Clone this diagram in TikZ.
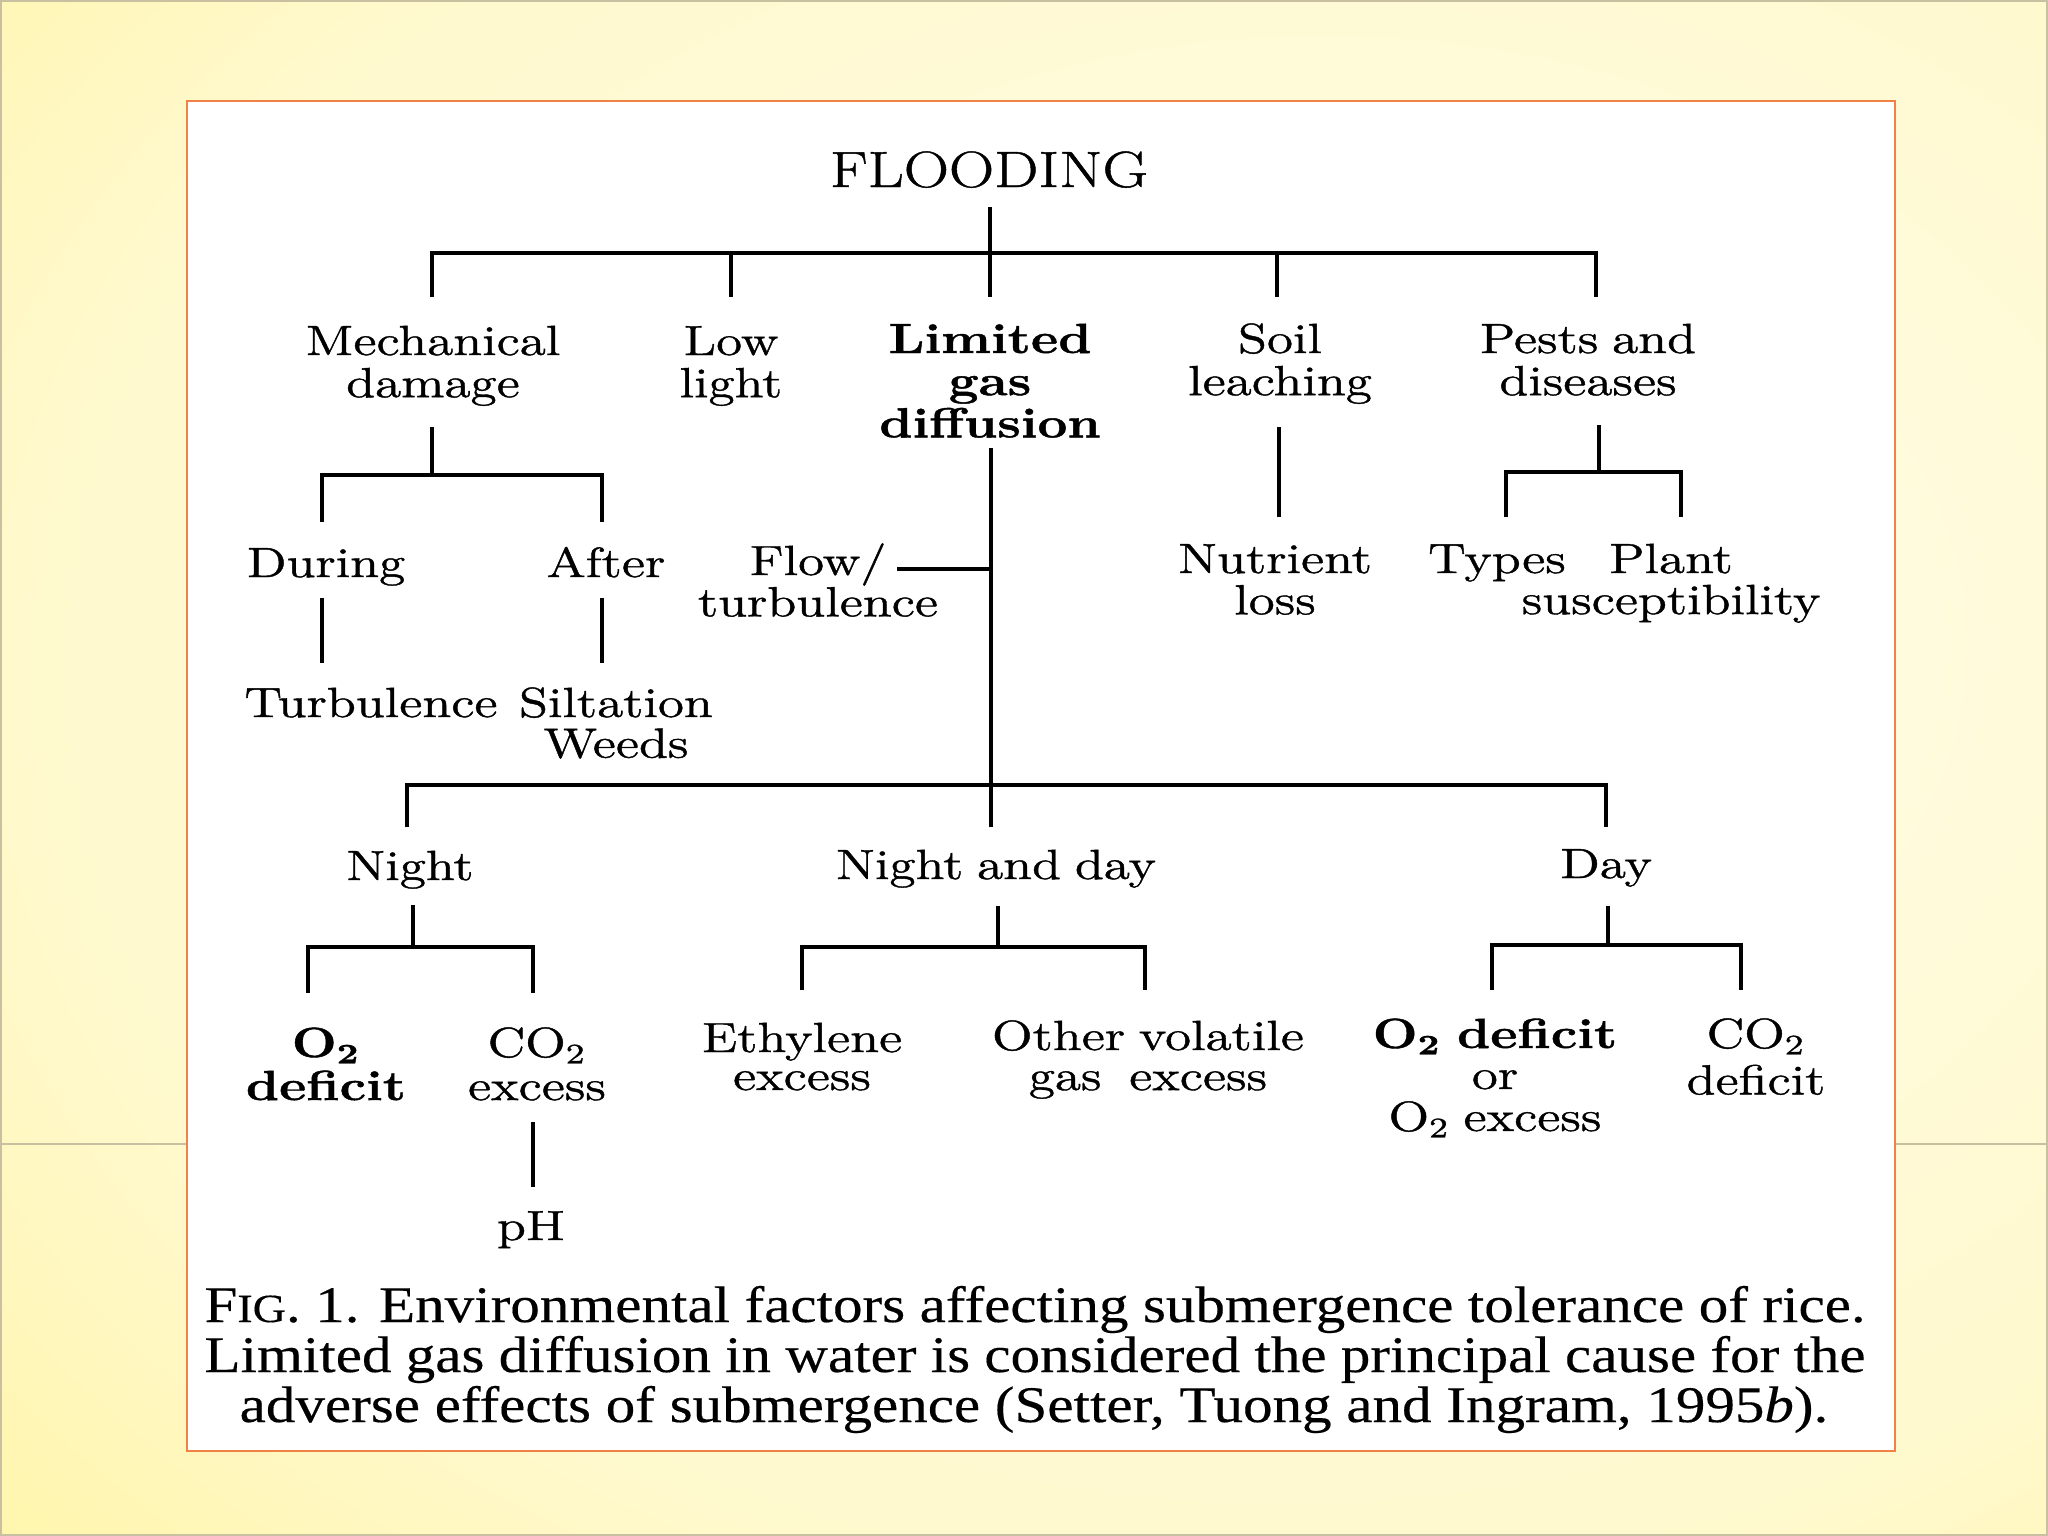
\documentclass[tikz,border=0pt]{standalone}
\usepackage{fontspec}
\newfontfamily\dfont{Latin Modern Roman}[FakeStretch=1.26, FakeBold=1.0, WordSpace=0.8]
\newfontfamily\ffont{Latin Modern Roman}[FakeStretch=1.23, FakeBold=0.9]
\newfontfamily\capfont{Liberation Serif}[FakeStretch=1.15, FakeBold=0.3]
\definecolor{bgA}{RGB}{255,252,232}
\definecolor{bgB}{RGB}{255,249,206}
\definecolor{bgC}{RGB}{255,245,168}
\definecolor{bgD}{RGB}{255,242,138}
\definecolor{bgE}{RGB}{255,239,110}
\definecolor{boxorange}{RGB}{240,130,70}
\definecolor{edgegray}{RGB}{200,192,160}
\pgfdeclareradialshading{bgshade}{\pgfpoint{10bp}{5bp}}{color(0bp)=(bgA); color(30bp)=(bgB); color(42bp)=(bgC); color(52bp)=(bgD); color(75bp)=(bgE)}
\newcommand\ml[2][1]{{\renewcommand\arraystretch{#1}\begin{tabular}[t]{@{}c@{}}#2\end{tabular}}}
\tikzset{
  lbl/.style={inner sep=0pt, anchor=base, font=\dfont\fontsize{12}{12}\selectfont},
  conn/.style={line width=1.05pt, line cap=butt, black},
  captxt/.style={inner sep=0pt, anchor=base, font=\capfont\fontsize{14.6}{17}\selectfont}
}
\begin{document}
\begin{tikzpicture}[x=0.01cm,y=-0.01cm]
\useasboundingbox (0,0) rectangle (2048,1536);
\shade[shading=bgshade] (0,0) rectangle (2048,1536);
\draw[edgegray, line width=0.8pt] (1,1) rectangle (2047,1535);
\draw[edgegray, line width=0.5pt] (0,1144) -- (187,1144) (1895,1144) -- (2048,1144);
\draw[fill=white, draw=boxorange, line width=0.8pt] (187,101) rectangle (1895,1451);

% ---- labels ----
\node[lbl, font=\ffont\fontsize{14.5}{14.5}\selectfont] (flood) at (989,187) {FLOODING};
\node[lbl] (mech) at (433,355) {\ml{Mechanical\\damage}};
\node[lbl] (low) at (731,355) {\ml{Low\\light}};
\node[lbl] (lim) at (990,353) {\ml{\bfseries Limited\\\bfseries gas\\\bfseries diffusion}};
\node[lbl] (soil) at (1280,353) {\ml{Soil\\leaching}};
\node[lbl] (pests) at (1588,353) {\ml{Pests and\\diseases}};

\node[lbl] (during) at (326,577) {\ml{During}};
\node[lbl] (after) at (606,577) {\ml{After}};
\node[lbl] (flow) at (818,575) {\ml[0.95]{Flow/\\turbulence}};
\node[lbl] (nutr) at (1275,573) {\ml[0.95]{Nutrient\\loss}};
\node[lbl] (types) at (1497,573) {\ml{Types}};
\node[lbl] (plant) at (1671,573) {\ml[0.93]{Plant\\susceptibility}};

\node[lbl] (turb) at (371,717) {\ml{Turbulence}};
\node[lbl] (silt) at (616,717) {\ml[0.9]{Siltation\\Weeds}};

\node[lbl] (night) at (410,880) {\ml{Night}};
\node[lbl] (nad) at (996,879) {\ml{Night and day}};
\node[lbl] (day) at (1606,878) {\ml{Day}};

\node[lbl] (o2n) at (326,1057) {\ml[1.02]{\bfseries O\textsubscript{2}\\\bfseries deficit}};
\node[lbl] (co2n) at (537,1057) {\ml[1.02]{CO\textsubscript{2}\\excess}};
\node[lbl] (ph) at (531,1240) {\ml{pH}};
\node[lbl] (eth) at (802,1052) {\ml[0.9]{Ethylene\\excess}};
\node[lbl] (oth) at (1148,1050) {\ml[0.95]{Other volatile\\gas\ \ excess}};
\node[lbl] (o2d) at (1495,1048) {\ml[0.97]{\bfseries O\textsubscript{2} deficit\\or\\O\textsubscript{2} excess}};
\node[lbl] (co2d) at (1756,1048) {\ml[1.1]{CO\textsubscript{2}\\deficit}};

% ---- caption ----
\node[captxt] (cap1) at (1035,1322) {\makebox[16.6cm][s]{F{\fontsize{11.4}{13}\selectfont IG}. 1. Environmental factors affecting submergence tolerance of rice.}};
\node[captxt] (cap2) at (1035,1372) {\makebox[16.6cm][s]{Limited gas diffusion in water is considered the principal cause for the}};
\node[captxt] (cap3) at (1034,1422) {adverse effects of submergence (Setter, Tuong and Ingram, 1995\textit{b}).};

% ---- junction coordinates ----
\coordinate (fT) at (990,207);
\coordinate (fB) at (990,297);
\coordinate (b1L) at (432,253);
\coordinate (b1R) at (1596,253);
\coordinate (d1a) at (432,297);
\coordinate (d1b) at (731,253); \coordinate (d1bE) at (731,297);
\coordinate (d1c) at (1277,253); \coordinate (d1cE) at (1277,297);
\coordinate (d1d) at (1596,297);

\coordinate (mT) at (432,427); \coordinate (mJ) at (432,475);
\coordinate (mL) at (322,475); \coordinate (mR) at (602,475);
\coordinate (mLE) at (322,522); \coordinate (mRE) at (602,522);
\coordinate (dT) at (322,598); \coordinate (dB) at (322,663);
\coordinate (aT) at (602,598); \coordinate (aB) at (602,663);

\coordinate (gT) at (991,448); \coordinate (gB) at (991,827);
\coordinate (fl) at (897,569); \coordinate (flJ) at (991,569);
\coordinate (b2L) at (407,785); \coordinate (b2R) at (1606,785);
\coordinate (nE) at (407,827); \coordinate (dyE) at (1606,827);

\coordinate (sT) at (1279,427); \coordinate (sB) at (1279,517);
\coordinate (pT) at (1599,425); \coordinate (pJ) at (1599,472);
\coordinate (pL) at (1506,472); \coordinate (pR) at (1681,472);
\coordinate (pLE) at (1506,517); \coordinate (pRE) at (1681,517);

\coordinate (nT) at (413,905); \coordinate (nJ) at (413,947);
\coordinate (nL) at (308,947); \coordinate (nR) at (533,947);
\coordinate (nLE) at (308,993); \coordinate (nRE) at (533,993);
\coordinate (cT) at (533,1122); \coordinate (cB) at (533,1187);

\coordinate (ndT) at (998,906); \coordinate (ndJ) at (998,947);
\coordinate (ndL) at (802,947); \coordinate (ndR) at (1145,947);
\coordinate (ndLE) at (802,990); \coordinate (ndRE) at (1145,990);

\coordinate (yT) at (1608,906); \coordinate (yJ) at (1608,945);
\coordinate (yL) at (1492,945); \coordinate (yR) at (1741,945);
\coordinate (yLE) at (1492,990); \coordinate (yRE) at (1741,990);

% ---- connectors ----
\draw[conn] (fT) -- (fB);
\draw[conn] (d1a) -- (b1L) -- (b1R) -- (d1d);
\draw[conn] (d1b) -- (d1bE);
\draw[conn] (d1c) -- (d1cE);
\draw[conn] (mT) -- (mJ);
\draw[conn] (mLE) -- (mL) -- (mR) -- (mRE);
\draw[conn] (dT) -- (dB);
\draw[conn] (aT) -- (aB);
\draw[conn] (gT) -- (gB);
\draw[conn] (fl) -- (flJ);
\draw[conn] (nE) -- (b2L) -- (b2R) -- (dyE);
\draw[conn] (sT) -- (sB);
\draw[conn] (pT) -- (pJ);
\draw[conn] (pLE) -- (pL) -- (pR) -- (pRE);
\draw[conn] (nT) -- (nJ);
\draw[conn] (nLE) -- (nL) -- (nR) -- (nRE);
\draw[conn] (cT) -- (cB);
\draw[conn] (ndT) -- (ndJ);
\draw[conn] (ndLE) -- (ndL) -- (ndR) -- (ndRE);
\draw[conn] (yT) -- (yJ);
\draw[conn] (yLE) -- (yL) -- (yR) -- (yRE);
\end{tikzpicture}
\end{document}
